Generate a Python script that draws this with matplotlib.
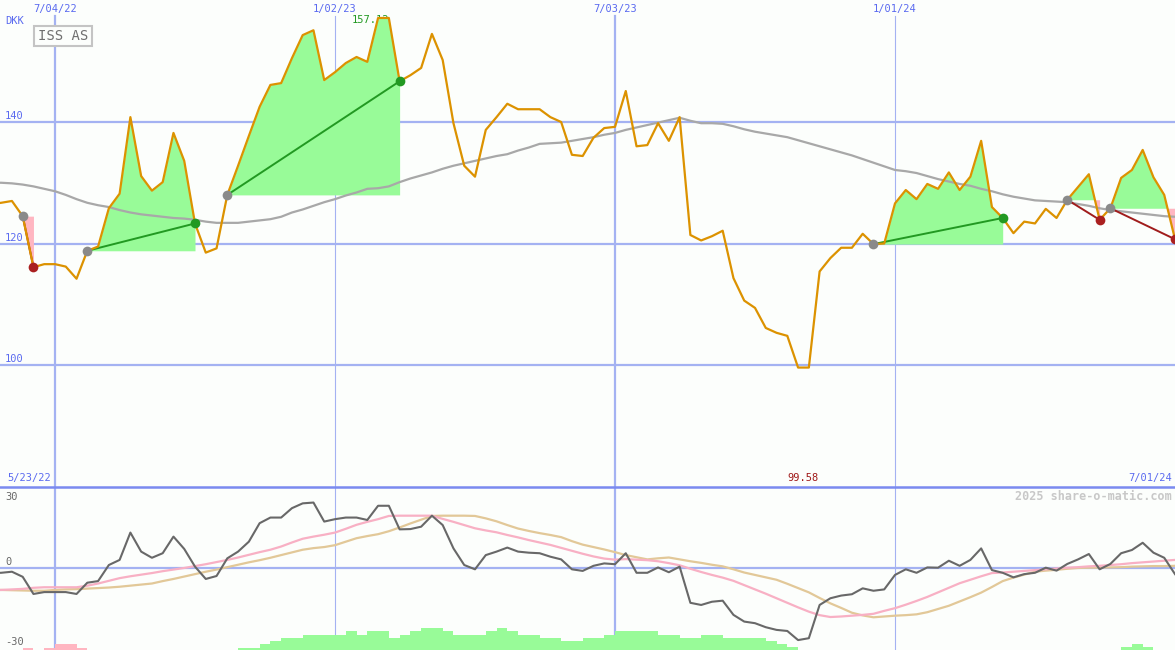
import numpy as np
import pandas as pd
import matplotlib
matplotlib.use('Agg')
import matplotlib.pyplot as plt
from matplotlib.lines import Line2D

# weekly closes ISS AS (DKK), 23 May 2022 .. 1 Jul 2024
dates = pd.date_range('2022-05-23', '2024-07-01', freq='W-MON')

price = [126.5, 126.7, 127.0, 124.5, 116.1, 116.6,
         116.6, 116.2, 114.2, 118.8, 119.5, 125.8, 128.2, 140.8, 131.1, 128.7,
         130.1, 138.2, 133.6, 123.3, 118.5, 119.2, 128.0, 132.8, 137.7, 142.5,
         146.1, 146.4, 150.5, 154.3, 155.1, 146.9, 148.2, 149.7, 150.7, 149.9,
         157.12, 157.12, 146.7, 147.7, 148.9, 154.5, 150.2, 139.8, 132.8, 131.0,
         138.7, 140.8, 143.0, 142.1, 142.1, 142.1, 140.8, 140.0, 134.6, 134.4,
         137.4, 139.0, 139.2, 145.1, 136.0, 136.2, 139.8, 136.9, 140.8, 121.4,
         120.5, 121.2, 122.1, 114.3, 110.6, 109.4, 106.1, 105.3, 104.8, 99.58,
         99.58, 115.4, 117.6, 119.3, 119.3, 121.6, 119.9, 120.0, 126.6, 128.8,
         127.3, 129.8, 129.0, 131.7, 128.8, 131.0, 136.9, 126.0, 124.2, 121.7,
         123.6, 123.3, 125.7, 124.2, 127.2, 129.3, 131.4, 123.9, 125.8, 130.8,
         132.1, 135.4, 130.9, 128.0, 120.7]

# moving average (grey)
avg = [130.0, 130.0, 129.9, 129.7, 129.4, 129.0,
       128.6, 128.0, 127.3, 126.7, 126.3, 126.0, 125.5, 125.1, 124.8, 124.6,
       124.4, 124.2, 124.1, 123.9, 123.6, 123.4, 123.4, 123.4, 123.6, 123.8,
       124.0, 124.4, 125.1, 125.6, 126.2, 126.8, 127.3, 127.9, 128.4, 129.0,
       129.1, 129.4, 130.1, 130.7, 131.2, 131.7, 132.3, 132.8, 133.2, 133.6,
       134.0, 134.4, 134.7, 135.3, 135.8, 136.4, 136.5, 136.6, 136.9, 137.2,
       137.5, 137.9, 138.2, 138.7, 139.1, 139.5, 139.9, 140.3, 140.7, 140.2,
       139.8, 139.8, 139.7, 139.3, 138.8, 138.4, 138.1, 137.8, 137.5, 137.0,
       136.5, 136.0, 135.5, 135.0, 134.5, 133.9, 133.3, 132.7, 132.1, 131.9,
       131.6, 131.1, 130.6, 130.2, 129.8, 129.5, 129.0, 128.6, 128.1, 127.7,
       127.4, 127.1, 127.0, 126.9, 126.8, 126.5, 126.2, 125.8, 125.5, 125.3,
       125.1, 124.9, 124.7, 124.5, 124.4]

# oscillator panel
osc = [-2.0, -1.9, -1.5, -3.4, -9.8, -9.1,
       -9.1, -9.1, -9.8, -5.6, -5.0, 1.0, 2.9, 13.1, 6.0, 3.7,
       5.4, 11.6, 7.0, 0.4, -4.2, -3.1, 3.5, 6.0, 9.7, 16.6,
       18.7, 18.7, 22.2, 24.0, 24.3, 17.2, 18.1, 18.7, 18.7, 17.8,
       23.1, 23.1, 14.3, 14.4, 15.3, 19.4, 15.9, 7.2, 1.0, -0.6,
       4.7, 6.0, 7.5, 6.0, 5.6, 5.4, 4.1, 3.1, -0.6, -1.2,
       0.7, 1.6, 1.3, 5.4, -1.9, -1.9, 0.1, -1.7, 0.4, -13.1,
       -13.9, -12.7, -12.3, -17.6, -20.1, -20.7, -22.2, -23.2, -23.6, -27.0,
       -26.3, -13.9, -11.4, -10.4, -9.9, -7.7, -8.6, -8.1, -2.7, -0.6,
       -1.9, 0.1, 0.0, 2.6, 0.7, 2.9, 7.2, -0.9, -1.9, -3.6,
       -2.4, -1.9, 0.0, -1.1, 1.4, 3.1, 5.1, -0.6, 1.4, 5.4,
       6.6, 9.3, 5.6, 3.7, -2.4]

signal = [-8.4, -8.3, -8.1, -7.9, -7.5, -7.3,
          -7.3, -7.3, -7.3, -6.7, -5.9, -4.9, -3.9, -3.2, -2.6, -2.0,
          -1.3, -0.7, -0.1, 0.6, 1.3, 2.1, 2.9, 3.8, 4.8, 5.8,
          6.7, 7.9, 9.4, 10.8, 11.6, 12.3, 13.1, 14.5, 16.0, 17.1,
          18.1, 19.3, 19.4, 19.4, 19.4, 19.4, 18.2, 17.1, 15.9, 14.7,
          13.9, 13.2, 12.2, 11.3, 10.3, 9.4, 8.5, 7.4, 6.3, 5.2,
          4.2, 3.4, 3.0, 3.2, 3.0, 2.8, 2.4, 1.7, 0.9, -0.4,
          -1.6, -2.7, -3.7, -4.9, -6.5, -8.1, -9.7, -11.4, -13.1, -14.8,
          -16.4, -17.7, -18.4, -18.2, -17.9, -17.6, -17.2, -16.1, -15.1, -13.8,
          -12.4, -10.9, -9.2, -7.5, -5.8, -4.5, -3.2, -2.0, -1.8, -1.5,
          -1.2, -0.9, -0.6, -0.3, 0.0, 0.2, 0.5, 0.7, 1.0, 1.3,
          1.7, 2.0, 2.3, 2.6, 2.9]

slow = [-8.3, -8.3, -8.4, -8.5, -8.6, -8.6,
        -8.3, -8.1, -8.0, -7.8, -7.6, -7.4, -7.1, -6.7, -6.3, -5.9,
        -5.0, -4.2, -3.3, -2.4, -1.5, -0.7, 0.2, 1.1, 2.0, 2.8,
        3.7, 4.7, 5.7, 6.7, 7.3, 7.7, 8.4, 9.7, 11.0, 11.8,
        12.5, 13.6, 15.0, 16.5, 17.9, 19.3, 19.4, 19.4, 19.4, 19.3,
        18.4, 17.3, 15.9, 14.6, 13.7, 12.9, 12.2, 11.4, 9.9, 8.6,
        7.7, 6.8, 5.8, 4.7, 3.9, 3.1, 3.5, 3.8, 3.1, 2.4,
        1.8, 1.1, 0.5, -0.6, -1.8, -2.7, -3.6, -4.5, -6.0, -7.6,
        -9.2, -11.3, -13.3, -15.0, -16.8, -17.8, -18.5, -18.2, -17.9, -17.7,
        -17.4, -16.6, -15.4, -14.2, -12.6, -11.0, -9.3, -7.2, -5.0, -3.7,
        -2.6, -1.5, -1.1, -0.8, -0.4, -0.1, 0.0, 0.0, 0.1, 0.2,
        0.4, 0.5, 0.6, 0.6, 0.7]

# histogram at the bottom of the oscillator panel (+ green, - pink)
hist = [0, 0, 0, -0.9, 0, -0.9,
        -2.1, -2.1, -0.9, 0, 0, 0, 0, 0, 0, 0,
        0, 0, 0, 0, 0, 0, 0, 0.9, 0.9, 2.4,
        3.4, 4.6, 4.6, 5.6, 5.6, 5.6, 5.6, 7.1, 5.6, 7.1,
        7.1, 4.6, 5.6, 7.1, 8.3, 8.3, 7.1, 5.6, 5.6, 5.6,
        7.1, 8.3, 7.1, 5.6, 5.6, 4.6, 4.6, 3.4, 3.4, 4.6,
        4.6, 5.6, 7.1, 7.1, 7.1, 7.1, 5.6, 5.6, 4.6, 4.6,
        5.6, 5.6, 4.6, 4.6, 4.6, 4.6, 3.4, 2.4, 1.1, 0,
        0, 0, 0, 0, 0, 0, 0, 0, 0, 0,
        0, 0, 0, 0, 0, 0, 0, 0, 0, 0,
        0, 0, 0, 0, 0, 0, 0, 0, 0, 1.1,
        2.4, 1.1, 0, 0, 0]

entries = ['2022-06-13', '2022-07-25', '2022-10-24', '2023-12-18', '2024-04-22', '2024-05-20']
exits = ['2022-06-20', '2022-10-03', '2023-02-13', '2024-03-11', '2024-05-13', '2024-07-01']

grid_dates = ['2022-07-04', '2023-01-02', '2023-07-03', '2024-01-01']
grid_labels = ['7/04/22', '1/02/23', '7/03/23', '1/01/24']
grid_thick = [True, False, True, False]

W, H = 1175, 650
bg = '#fcfefc'
gridc = '#a4b2f2'
blue = '#5a6af0'
orange = '#dc9200'
green = '#98fb98'
pink = '#ffb6c1'

plt.rcParams['font.family'] = 'DejaVu Sans Mono'

s = pd.Series(price, index=dates)
fig = plt.figure(figsize=(W / 100, H / 100), dpi=100)
fig.patch.set_facecolor(bg)
ax = fig.add_axes([0, 163 / H, 1, 487 / H])
ax2 = fig.add_axes([0, 0, 1, 163 / H], sharex=ax)
for a in (ax, ax2):
    a.set_axis_off()

x0 = pd.Timestamp('2022-07-04') - pd.Timedelta(days=35.75)
ax.set_xlim(x0, pd.Timestamp('2024-07-01'))
ax.set_ylim(79.92, 160.08)
ax2.set_ylim(-30.7, 30.1)

# grid
for v in (100, 120, 140):
    ax.axhline(v, color=gridc, lw=1.6, zorder=1)
ax2.axhline(0, color=gridc, lw=1.6, zorder=1)
for d, thick in zip(grid_dates, grid_thick):
    lw = 1.6 if thick else 0.8
    ax.axvline(pd.Timestamp(d), ymax=(487 - 16) / 487, color=gridc, lw=lw, zorder=1)
    ax2.axvline(pd.Timestamp(d), color=gridc, lw=lw, zorder=1)
fig.add_artist(Line2D([0, 1], [163 / H, 163 / H], transform=fig.transFigure,
                      color='#7a8af0', lw=1.8))

# max label (partly hidden behind the fill, as in the original)
imax = int(np.argmax(price))
ax.text(dates[imax + 1], 156.8, f'{max(price):.2f}', color='#229922', fontsize=7.5,
        ha='right', va='center', zorder=1.5)

# trades
for en, ex in zip(entries, exits):
    seg = s[en:ex]
    base = s[en]
    ax.fill_between(seg.index, seg.values, base, where=seg.values >= base,
                    interpolate=True, color=green, lw=0, zorder=2)
    ax.fill_between(seg.index, seg.values, base, where=seg.values < base,
                    interpolate=True, color=pink, lw=0, zorder=2)

ax.plot(dates, avg, color='#a8a8a8', lw=1.6, zorder=3)
ax.plot(dates, price, color=orange, lw=1.6, zorder=4)

for en, ex in zip(entries, exits):
    win = s[ex] > s[en]
    c = '#229922' if win else '#a01c1c'
    ax.plot([pd.Timestamp(en), pd.Timestamp(ex)], [s[en], s[ex]], color=c, lw=1.4, zorder=3.5)
    ax.plot(pd.Timestamp(en), s[en], 'o', color='#8a8a8a', ms=7, mew=0, zorder=6)
    ax.plot(pd.Timestamp(ex), s[ex], 'o', color='#229922' if win else '#aa2020', ms=7, mew=0, zorder=6)

# oscillator panel
hist = np.array(hist)
ax2.bar(dates, np.abs(hist), width=7, align='edge', bottom=-30.7,
        color=[green if h > 0 else pink for h in hist], lw=0, zorder=1)
ax2.plot(dates, slow, color='#e2c898', lw=1.6, zorder=3)
ax2.plot(dates, signal, color='#f8b0c4', lw=1.6, zorder=4)
ax2.plot(dates, osc, color='#686868', lw=1.5, zorder=5)


def ptxt(x, y, t, **kw):
    fig.text(x / W, 1 - y / H, t, **kw)


for d, lab in zip(grid_dates, grid_labels):
    ax.text(pd.Timestamp(d), 1 - 9 / 487, lab, transform=ax.get_xaxis_transform(),
            color=blue, fontsize=7.5, ha='center', va='center')
ptxt(5, 21, 'DKK', color=blue, fontsize=7.5, va='center')
for lab, y in (('140', 116), ('120', 238), ('100', 359)):
    ptxt(5, y, lab, color=blue, fontsize=7.5, va='center')
for lab, y in (('30', 497), ('0', 562), ('-30', 642)):
    ptxt(5, y, lab, color='#686868', fontsize=7.5, va='center')
ptxt(7, 478, '5/23/22', color=blue, fontsize=7.5, va='center')
ptxt(1172, 478, '7/01/24', color=blue, fontsize=7.5, va='center', ha='right')
imin = int(np.argmin(price))
ax.annotate(f'{min(price):.2f}', (dates[imin] + pd.Timedelta(days=3.5), 1 - 478 / H),
            xycoords=('data', 'figure fraction'), color='#a01818', fontsize=7.5,
            ha='center', va='center')
ptxt(1172, 496, '2025 share-o-matic.com', color='#c8c8c8', fontsize=8.5,
     weight='bold', ha='right', va='center')
ptxt(63, 36, 'ISS AS', color='#707070', fontsize=10, ha='center', va='center',
     bbox=dict(boxstyle='square,pad=0.25', fc=bg, ec='#c4c4c4', lw=1.5))

fig.savefig('out.png', dpi=100, facecolor=bg)
